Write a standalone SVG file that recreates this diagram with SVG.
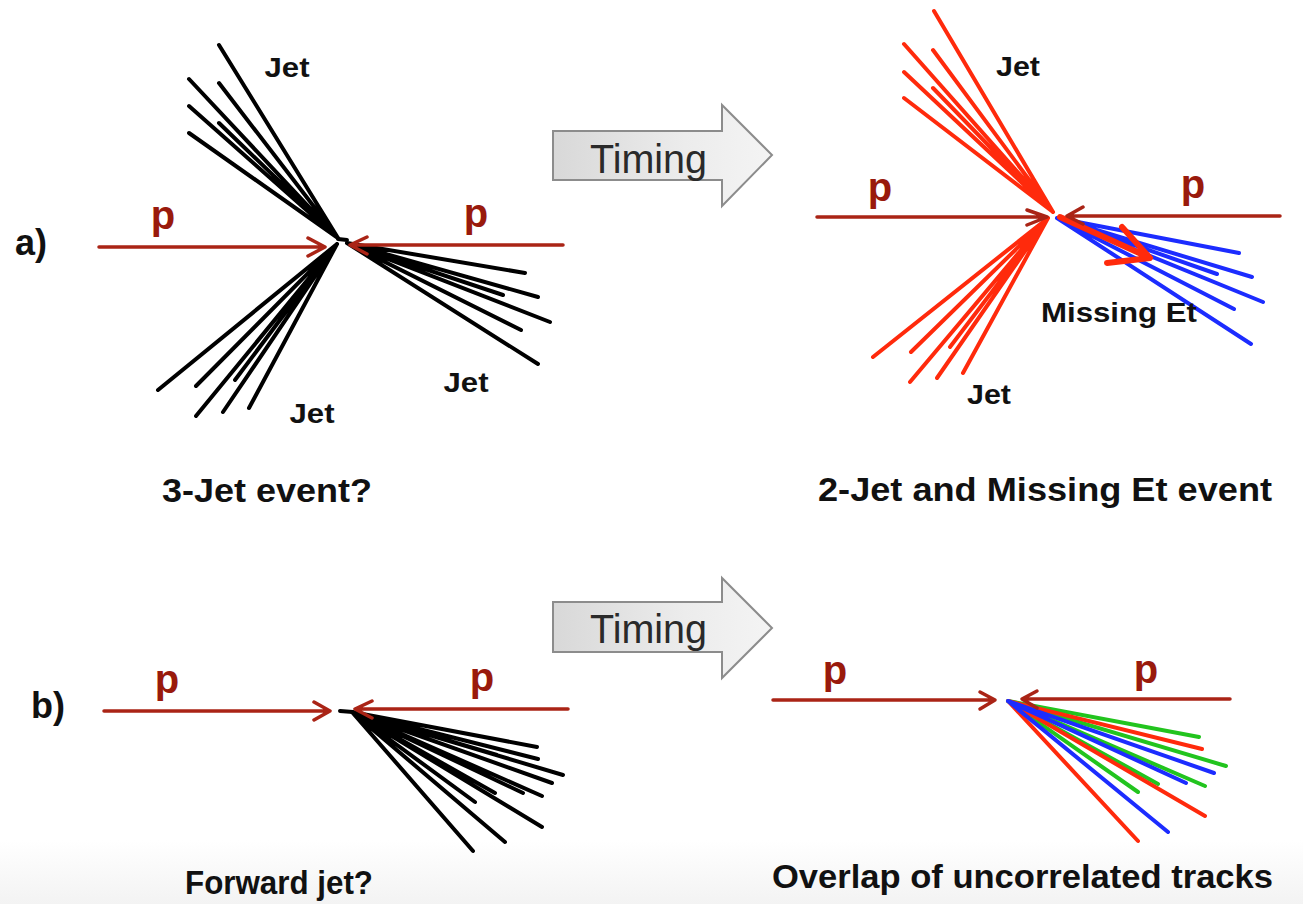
<svg xmlns="http://www.w3.org/2000/svg" width="1303" height="904" viewBox="0 0 1303 904">
  <style>
    .beam { fill: none; stroke: #aa2416; stroke-width: 3.5; stroke-linecap: round; stroke-linejoin: round; }
    .track { fill: none; stroke-width: 4; stroke-linecap: round; }
    .blk { stroke: #000; }
    .red { stroke: #ff2a0c; }
    .blue { stroke: #1c2cff; }
    .green { stroke: #22c41e; }
    .lbl { font-family: "Liberation Sans", Arial, sans-serif; font-weight: bold; fill: #111; }
    .p { font-family: "Liberation Sans", Arial, sans-serif; font-weight: bold; font-size: 40px; fill: #991a0c; text-anchor: middle; }
    .jet { font-size: 28px; text-anchor: middle; }
    .cap { font-size: 33px; }
    .timing { fill: url(#tgrad); stroke: #8c8c8c; stroke-width: 2; }
    .ttext { font-family: "Liberation Sans", Arial, sans-serif; font-size: 40px; fill: #2a2a2a; }
  </style>
  <defs>
    <linearGradient id="tgrad" x1="0" y1="0" x2="1" y2="0">
      <stop offset="0" stop-color="#d8d8d8"/>
      <stop offset="0.6" stop-color="#ececec"/>
      <stop offset="1" stop-color="#f4f4f4"/>
    </linearGradient>
    <linearGradient id="floor" x1="0" y1="0" x2="0" y2="1">
      <stop offset="0" stop-color="#ffffff"/>
      <stop offset="1" stop-color="#f3f3f3"/>
    </linearGradient>
  </defs>

  <rect width="1303" height="904" fill="#fff"/>
  <rect x="0" y="840" width="1303" height="64" fill="url(#floor)"/>

  <!-- panel labels -->
  <text class="lbl" x="15" y="255" font-size="36">a)</text>
  <text class="lbl" x="31" y="718" font-size="36">b)</text>

  <!-- a) left: three-jet picture -->
  <g id="a-left">
    <path class="track blk" d="M338 238 L219 45 M338 238 L189 79 M338 238 L219 83 M338 238 L189 106 M338 238 L219 123 M338 238 L189 133"/>
    <path class="track blk" d="M337 244 L158 390 M337 244 L196 386 M337 244 L196 416 M337 244 L223 412 M337 244 L235 380 M337 244 L249 408"/>
    <path class="track blk" d="M347 243 L525 273 M347 243 L538 297 M347 243 L503 295 M347 243 L550 322 M347 243 L521 330 M347 243 L538 364"/>
    <path class="track blk" d="M338 239 L347 240"/>
    <text class="lbl jet" x="287" y="77" textLength="45" lengthAdjust="spacingAndGlyphs">Jet</text>
    <text class="lbl jet" x="312" y="423" textLength="45" lengthAdjust="spacingAndGlyphs">Jet</text>
    <text class="lbl jet" x="466" y="392" textLength="45" lengthAdjust="spacingAndGlyphs">Jet</text>
    <text class="lbl cap" x="162" y="502" textLength="210" lengthAdjust="spacingAndGlyphs">3-Jet event?</text>
  </g>

  <!-- a) right: two jets plus missing Et -->
  <g id="a-right">
    <path class="track red" d="M1053 212 L934 11 M1053 212 L904 44 M1053 212 L933 50 M1053 212 L904 72 M1053 212 L933 88 M1053 212 L904 98"/>
    <path class="track red" d="M1048 218 L873 357 M1048 218 L911 352 M1048 218 L910 382 M1048 218 L937 378 M1048 218 L950 347 M1048 218 L963 373"/>
    <path class="track blue" d="M1057 218 L1239 253 M1057 218 L1252 277 M1057 218 L1217 274 M1057 218 L1263 302 M1057 218 L1234 309 M1057 218 L1251 344"/>
    <path fill="none" stroke="#ff2a0c" stroke-width="6" stroke-linecap="round" stroke-linejoin="round" d="M1060 217 L1148 257 M1122 227 L1150 258 L1107 263"/>
    <text class="lbl jet" x="1018" y="76" textLength="44" lengthAdjust="spacingAndGlyphs">Jet</text>
    <text class="lbl jet" x="989" y="404" textLength="44" lengthAdjust="spacingAndGlyphs">Jet</text>
    <text class="lbl jet" x="1119" y="322" textLength="156" lengthAdjust="spacingAndGlyphs">Missing Et</text>
    <text class="lbl cap" x="818" y="501" textLength="454" lengthAdjust="spacingAndGlyphs">2-Jet and Missing Et event</text>
  </g>

  <!-- b) left: forward jet -->
  <g id="b-left">
    <path class="track blk" d="M352 712 L537 747 M352 712 L538 759 M352 712 L563 775 M352 712 L552 783 M352 712 L542 796 M352 712 L523 793 M352 712 L495 793 M352 712 L475 802 M352 712 L542 827 M352 712 L505 842 M352 712 L473 851 M352 712 L497 755"/>
    <path class="track blk" d="M340 711 L353 712"/>
    <text class="lbl cap" x="185" y="894" textLength="188" lengthAdjust="spacingAndGlyphs">Forward jet?</text>
  </g>

  <!-- b) right: overlapping tracks from separate collisions -->
  <g id="b-right">
    <path class="track green" d="M1008 701 L1199 737 M1008 701 L1226 766 M1008 701 L1205 786 M1008 701 L1158 784 M1008 701 L1138 792"/>
    <path class="track red" d="M1008 701 L1202 749 M1008 701 L1205 816 M1008 701 L1138 841"/>
    <path class="track blue" d="M1008 701 L1214 773 M1008 701 L1186 783 M1008 701 L1168 832"/>
    <text class="lbl cap" x="772" y="888" textLength="501" lengthAdjust="spacingAndGlyphs">Overlap of uncorrelated tracks</text>
  </g>

  <!-- incoming proton beams -->
  <g id="beams">
    <path class="beam" d="M99 247 L325 247 M308 238 L325 247 L308 256"/>
    <path class="beam" d="M563 245 L350 245 M367 237 L350 245 L367 254"/>
    <path class="beam" d="M817 217 L1047 217 M1027 210 L1047 217 L1027 225"/>
    <path class="beam" d="M1280 216 L1067 216 M1083 207 L1067 216 L1083 224"/>
    <path class="beam" d="M104 711 L330 711 M314 702 L330 711 L314 720"/>
    <path class="beam" d="M568 709 L355 709 M372 701 L355 709 L372 718"/>
    <path class="beam" d="M773 700 L995 700 M980 692 L995 700 L980 709"/>
    <path class="beam" d="M1230 699 L1022 699 M1037 691 L1022 699 L1037 708"/>
    <text class="p" x="163" y="229">p</text>
    <text class="p" x="476" y="227">p</text>
    <text class="p" x="880" y="201">p</text>
    <text class="p" x="1193" y="198">p</text>
    <text class="p" x="167" y="693">p</text>
    <text class="p" x="482" y="691">p</text>
    <text class="p" x="835" y="684">p</text>
    <text class="p" x="1146" y="683">p</text>
  </g>

  <!-- timing arrows -->
  <g id="timing-a">
    <path class="timing" d="M553 131 L722 131 L722 105 L772 155 L722 206 L722 180 L553 180 Z"/>
    <text class="ttext" x="590" y="173" textLength="117" lengthAdjust="spacingAndGlyphs">Timing</text>
  </g>
  <g id="timing-b">
    <path class="timing" d="M553 602 L722 602 L722 578 L772 628 L722 678 L722 652 L553 652 Z"/>
    <text class="ttext" x="590" y="643" textLength="117" lengthAdjust="spacingAndGlyphs">Timing</text>
  </g>
</svg>
